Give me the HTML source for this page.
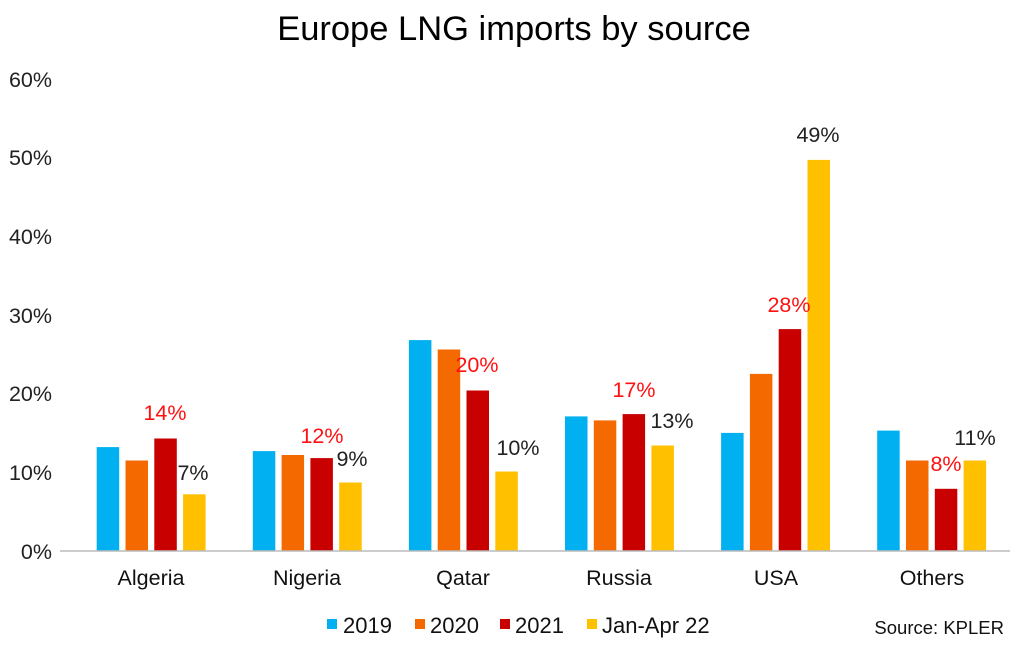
<!DOCTYPE html>
<html><head><meta charset="utf-8"><style>
html,body{margin:0;padding:0;background:#fff;}
svg text{font-family:"Liberation Sans",Arial,sans-serif;}
</style></head><body>
<svg width="1024" height="649" viewBox="0 0 1024 649" xmlns="http://www.w3.org/2000/svg">
<rect width="1024" height="649" fill="#fff"/>
<text x="514" y="40" text-anchor="middle" font-size="34.5" fill="#000">Europe LNG imports by source</text>
<g font-size="21.5" fill="#222" text-anchor="end">
<text x="52" y="87">60%</text>
<text x="52" y="165">50%</text>
<text x="52" y="244">40%</text>
<text x="52" y="323">30%</text>
<text x="52" y="401">20%</text>
<text x="52" y="480">10%</text>
<text x="52" y="559">0%</text>
</g>
<g>
<rect x="96.7" y="447.1" width="22.5" height="103.9" fill="#00B0F0"/>
<rect x="125.5" y="460.5" width="22.5" height="90.5" fill="#F56A00"/>
<rect x="154.3" y="438.5" width="22.5" height="112.5" fill="#C80000"/>
<rect x="183.1" y="494.3" width="22.5" height="56.7" fill="#FFC000"/>

<rect x="252.8" y="451.1" width="22.5" height="99.9" fill="#00B0F0"/>
<rect x="281.6" y="455.0" width="22.5" height="96.0" fill="#F56A00"/>
<rect x="310.4" y="458.1" width="22.5" height="92.9" fill="#C80000"/>
<rect x="339.2" y="482.5" width="22.5" height="68.5" fill="#FFC000"/>

<rect x="408.9" y="340.1" width="22.5" height="210.9" fill="#00B0F0"/>
<rect x="437.7" y="349.5" width="22.5" height="201.5" fill="#F56A00"/>
<rect x="466.5" y="390.5" width="22.5" height="160.5" fill="#C80000"/>
<rect x="495.3" y="471.5" width="22.5" height="79.5" fill="#FFC000"/>

<rect x="565.0" y="416.4" width="22.5" height="134.6" fill="#00B0F0"/>
<rect x="593.8" y="420.4" width="22.5" height="130.6" fill="#F56A00"/>
<rect x="622.6" y="414.1" width="22.5" height="136.9" fill="#C80000"/>
<rect x="651.4" y="445.5" width="22.5" height="105.5" fill="#FFC000"/>

<rect x="721.1" y="432.9" width="22.5" height="118.1" fill="#00B0F0"/>
<rect x="749.9" y="373.9" width="22.5" height="177.1" fill="#F56A00"/>
<rect x="778.7" y="329.1" width="22.5" height="221.9" fill="#C80000"/>
<rect x="807.5" y="159.9" width="22.5" height="391.1" fill="#FFC000"/>

<rect x="877.2" y="430.6" width="22.5" height="120.4" fill="#00B0F0"/>
<rect x="906.0" y="460.5" width="22.5" height="90.5" fill="#F56A00"/>
<rect x="934.8" y="488.8" width="22.5" height="62.2" fill="#C80000"/>
<rect x="963.6" y="460.5" width="22.5" height="90.5" fill="#FFC000"/>
</g>
<line x1="60" y1="551" x2="1010" y2="551" stroke="#bbb" stroke-width="1.5"/>
<g font-size="21.5" text-anchor="middle">
<text x="165" y="420" fill="#FF1010">14%</text>
<text x="193" y="480" fill="#222">7%</text>
<text x="322" y="443" fill="#FF1010">12%</text>
<text x="352" y="466" fill="#222">9%</text>
<text x="477" y="372" fill="#FF1010">20%</text>
<text x="518" y="455" fill="#222">10%</text>
<text x="634" y="397" fill="#FF1010">17%</text>
<text x="672" y="428" fill="#222">13%</text>
<text x="789" y="312" fill="#FF1010">28%</text>
<text x="818" y="142" fill="#222">49%</text>
<text x="946" y="471" fill="#FF1010">8%</text>
<text x="975" y="445" fill="#222">11%</text>
</g>
<g font-size="21.5" fill="#111" text-anchor="middle">
<text x="151" y="585">Algeria</text>
<text x="307" y="585">Nigeria</text>
<text x="463" y="585">Qatar</text>
<text x="619" y="585">Russia</text>
<text x="776" y="585">USA</text>
<text x="932" y="585">Others</text>
</g>
<g font-size="22">
<rect x="327" y="619" width="10" height="10" fill="#00B0F0"/><text x="343" y="633" fill="#111">2019</text>
<rect x="415" y="619" width="10" height="10" fill="#F56A00"/><text x="430" y="633" fill="#111">2020</text>
<rect x="500" y="619" width="10" height="10" fill="#C80000"/><text x="515" y="633" fill="#111">2021</text>
<rect x="587" y="619" width="10" height="10" fill="#FFC000"/><text x="602" y="633" fill="#111">Jan-Apr 22</text>
</g>
<text x="1004" y="634" font-size="18.5" fill="#111" text-anchor="end">Source: KPLER</text>
</svg>
</body></html>
